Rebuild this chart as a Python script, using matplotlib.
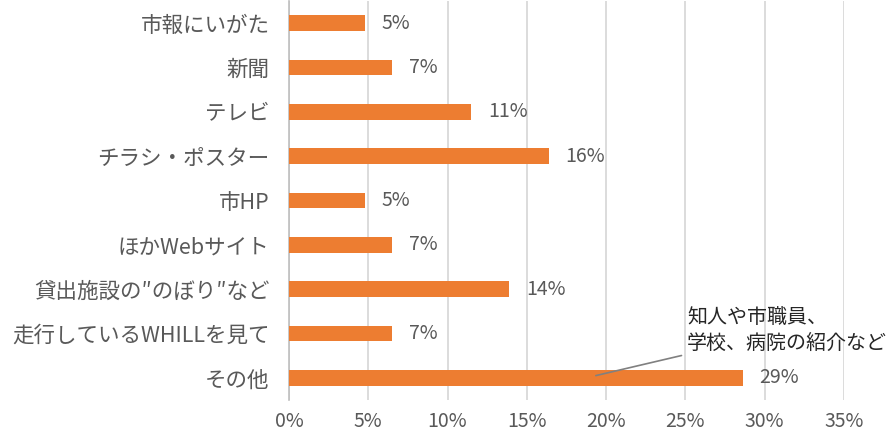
import matplotlib
matplotlib.use("Agg")
import matplotlib.pyplot as plt
from matplotlib.ticker import PercentFormatter

plt.rcParams['font.family'] = ['Noto Sans CJK JP', 'DejaVu Sans']

## Data (percent)
categories = ["市報にいがた", "新聞", "テレビ", "チラシ・ポスター", "市HP",
              "ほかWebサイト", "貸出施設の″のぼり″など", "走行しているWHILLを見て", "その他"]
values = [4.8, 6.5, 11.5, 16.4, 4.8, 6.5, 13.9, 6.5, 28.6]
valueLabels = ["5%", "7%", "11%", "16%", "5%", "7%", "14%", "7%", "29%"]
ticks = [0, 5, 10, 15, 20, 25, 30, 35]
noteText = "知人や市職員、\n学校、病院の紹介など"

orange = "#ED7D31"
gray = "#595959"

fig = plt.figure(figsize=(8.9, 4.37), dpi=100)
ax = fig.add_axes([0.3247, 0.0847, 0.6236, 0.913])

ypos = list(range(len(categories)))
ax.barh(ypos, values, height=0.36, color=orange, zorder=3)

for y, v, lab in zip(ypos, values, valueLabels):
    ax.annotate(lab, xy=(v, y), xytext=(12, 0), textcoords="offset points",
                ha="left", va="center", fontsize=14, color=gray)

ax.set_yticks(ypos)
ax.set_yticklabels(categories, fontsize=15.5, color=gray)
ax.set_ylim(len(categories) - 0.5, -0.5)

ax.set_xlim(0, 35)
ax.set_xticks(ticks)
ax.xaxis.set_major_formatter(PercentFormatter(decimals=0))
ax.tick_params(axis="x", labelsize=14, labelcolor=gray, length=0, pad=8)
ax.tick_params(axis="y", length=0, pad=14)

ax.grid(axis="x", color="#D9D9D9", linewidth=1.3, zorder=0)
for side in ["top", "right", "bottom"]:
    ax.spines[side].set_visible(False)
ax.spines["left"].set_color("#BFBFBF")
ax.spines["left"].set_linewidth(1.2)

## Callout for "その他"
ax.annotate(noteText, xy=(19.35, 7.95), xytext=(25.1, 6.94),
            ha="left", va="center", fontsize=14.4, color="#262626",
            linespacing=1.3, annotation_clip=False,
            arrowprops=dict(arrowstyle="-", color="#808080", lw=1.2,
                            relpos=(0, 0), shrinkA=2, shrinkB=0))

fig.savefig("out.png", dpi=100)
